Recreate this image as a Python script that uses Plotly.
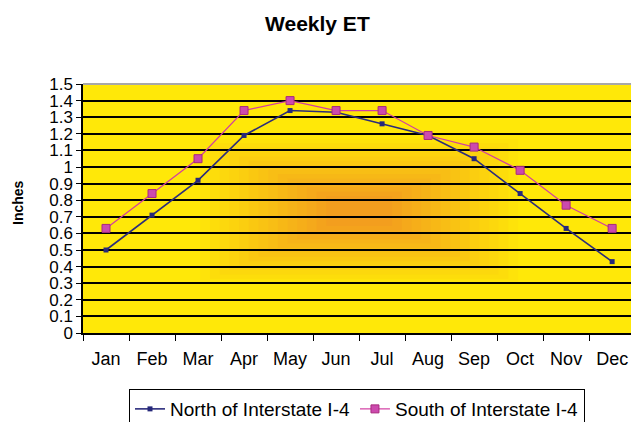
import plotly.graph_objects as go

months = ["Jan", "Feb", "Mar", "Apr", "May", "Jun", "Jul", "Aug", "Sep", "Oct", "Nov", "Dec"]
north = [0.50, 0.71, 0.92, 1.19, 1.34, 1.33, 1.26, 1.19, 1.05, 0.84, 0.63, 0.43]
south = [0.63, 0.84, 1.05, 1.34, 1.40, 1.34, 1.34, 1.19, 1.12, 0.98, 0.77, 0.63]
ytick_vals = [0, 0.1, 0.2, 0.3, 0.4, 0.5, 0.6, 0.7, 0.8, 0.9, 1.0, 1.1, 1.2, 1.3, 1.4, 1.5]
ytick_text = ["0", "0.1", "0.2", "0.3", "0.4", "0.5", "0.6", "0.7", "0.8", "0.9",
              "1", "1.1", "1.2", "1.3", "1.4", "1.5"]

FONT = "Arial, 'Liberation Sans', sans-serif"
YELLOW = (255, 232, 8)
ORANGE = (243, 158, 30)

fig = go.Figure()
fig.add_trace(go.Scatter(
    x=months, y=north, name="North of Interstate I-4", mode="lines+markers",
    line=dict(color="#2B2C7C", width=1.6),
    marker=dict(symbol="square", size=5, color="#26287A"),
))
fig.add_trace(go.Scatter(
    x=months, y=south, name="South of Interstate I-4", mode="lines+markers",
    line=dict(color="#D23EA2", width=1.2),
    marker=dict(symbol="square", size=8, color="#CC4AAE", line=dict(color="#A8287E", width=1)),
))

# rectangular "from centre" gradient of the plot area
shapes = []
N = 14
cx, cy = 0.504, 0.49
for k in range(N):
    f = 0.58 - (0.58 - 0.12) * k / (N - 1)
    t = (k + 1) / N
    col = tuple(round(YELLOW[i] + (ORANGE[i] - YELLOW[i]) * t) for i in range(3))
    h = 0.5 * f
    shapes.append(dict(
        type="rect", xref="x domain", yref="y domain", layer="below",
        x0=cx - h, x1=cx + h, y0=cy - h, y1=cy + h,
        fillcolor="rgb(%d,%d,%d)" % col, line=dict(width=0),
    ))
shapes.append(dict(type="line", xref="x domain", yref="y domain", layer="above",
                   x0=0, x1=1, y0=1, y1=1, line=dict(color="#A8A8A8", width=2)))

fig.update_layout(
    width=631, height=422,
    margin=dict(l=83, r=0, t=84, b=89, autoexpand=False),
    paper_bgcolor="white",
    plot_bgcolor="rgb(%d,%d,%d)" % YELLOW,
    font=dict(family=FONT, color="black"),
    title=dict(text="<b>Weekly ET</b>", x=0.503, xanchor="center", xref="container",
               y=1 - 16 / 422, yanchor="top", yref="container",
               font=dict(size=21, family=FONT, color="black")),
    showlegend=True,
    legend=dict(orientation="h", x=0.5, xanchor="center", y=-0.225, yanchor="top",
                bordercolor="black", borderwidth=1, bgcolor="white",
                font=dict(size=19, family=FONT), itemwidth=30, tracegroupgap=0),
    shapes=shapes,
    annotations=[dict(text="<b>Inches</b>", textangle=-90, xref="paper", yref="paper",
                      x=(18 - 83) / 548, y=(333 - 203) / 249, xanchor="center", yanchor="middle",
                      showarrow=False, font=dict(size=14, family=FONT, color="black"))],
)

fig.update_xaxes(
    type="category", range=[-0.5, 11.41], tickson="boundaries",
    ticks="outside", ticklen=6, tickwidth=1, tickcolor="black",
    showline=True, linecolor="black", linewidth=1.5,
    showgrid=False, zeroline=False, automargin=False,
    tickfont=dict(size=18, family=FONT, color="black"),
    ticklabelstandoff=9,
)
fig.update_yaxes(
    range=[0, 1.5], tickvals=ytick_vals, ticktext=ytick_text,
    ticks="outside", ticklen=5, tickwidth=1, tickcolor="black",
    showline=True, linecolor="black", linewidth=1.5,
    showgrid=True, gridcolor="black", gridwidth=1.8, zeroline=False, automargin=False,
    tickfont=dict(size=17, family=FONT, color="black"),
)

fig.write_html("out.html", config={"displayModeBar": False},
               post_script="document.body.style.margin='0';")
